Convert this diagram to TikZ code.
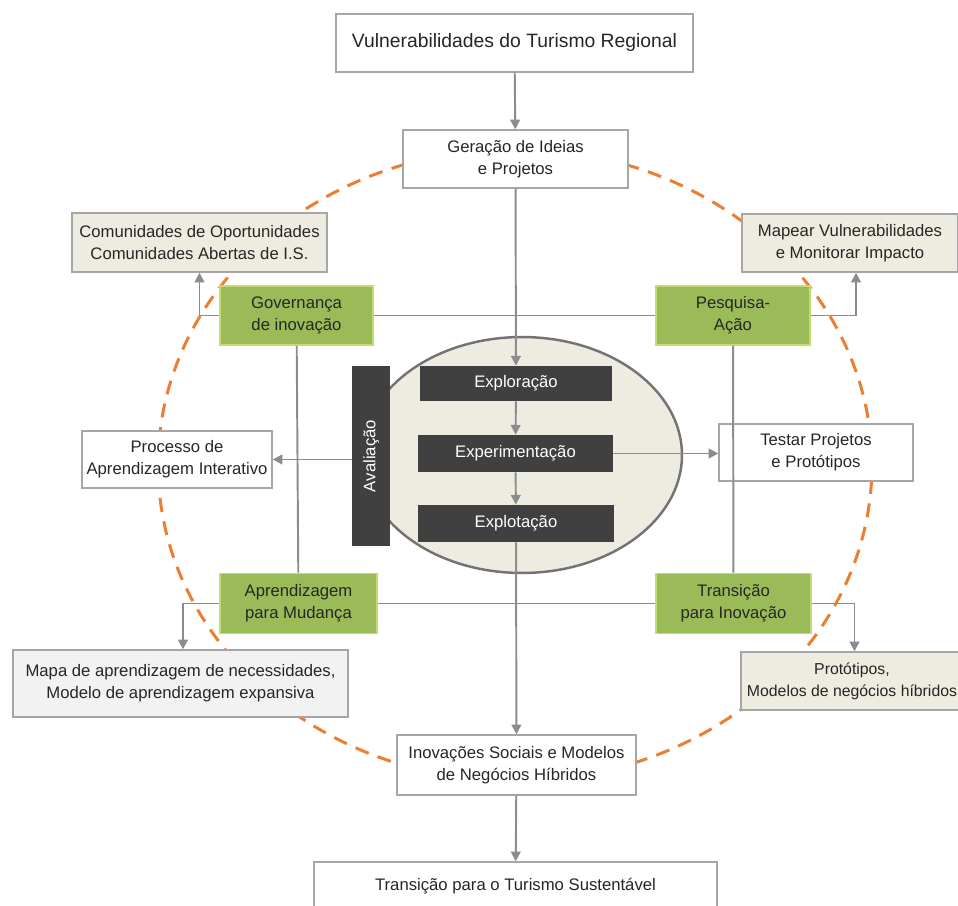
\documentclass[tikz,border=0pt]{standalone}
\usepackage{fontspec}
\setmainfont{Liberation Sans}
\usetikzlibrary{arrows.meta}

\definecolor{linegray}{HTML}{8C8C8C}
\definecolor{boxgray}{HTML}{A6A6A6}
\definecolor{txtgray}{HTML}{262626}
\definecolor{beige}{HTML}{EEECE1}
\definecolor{lightgray}{HTML}{F2F2F2}
\definecolor{leafgreen}{HTML}{9BBB59}
\definecolor{limegreen}{HTML}{C3DC6E}
\definecolor{darkbox}{HTML}{404040}
\definecolor{dashorange}{HTML}{ED7D31}

\begin{document}
\begin{tikzpicture}[x=0.02cm,y=-0.02cm,
    box/.style={draw=boxgray,fill=white,line width=0.8pt,align=center,inner sep=0pt,
      text=txtgray,font=\fontsize{9.5}{12.5}\selectfont},
    beigebox/.style={box,fill=beige},
    greenbox/.style={box,fill=leafgreen,draw=limegreen,line width=1pt},
    darkstep/.style={fill=darkbox,text=white,align=center,inner sep=0pt,
      font=\fontsize{9.5}{12.5}\selectfont},
    conn/.style={draw=linegray,line width=1.1pt},
    arr/.style={conn,-{Triangle[length=5.5pt,width=5.5pt]}}]
    \useasboundingbox (0,0) rectangle (958,906);

    % outer cycle and core
    \draw [dashorange,line width=1.7pt,dash pattern=on 8pt off 5.5pt] (515,465) ellipse [x radius=7.14cm,y radius=6.32cm];
    \draw [fill=beige,draw=gray!90!black,line width=1.4pt] (522,455) ellipse [x radius=3.2cm,y radius=2.36cm];

    \node[box,minimum width=7.14cm,minimum height=1.16cm,font=\fontsize{11}{13}\selectfont] (vuln) at (514.5,43) {Vulnerabilidades do Turismo Regional};
    \node[box,minimum width=4.5cm,minimum height=1.16cm] (ideias) at (515.5,159) {Geração de Ideias\\e Projetos};

    \node[beigebox,minimum width=5.1cm,minimum height=1.18cm] (comun) at (199.5,242.5) {Comunidades de Oportunidades\\Comunidades Abertas de I.S.};
    \node[beigebox,minimum width=4.32cm,minimum height=1.16cm] (mapear) at (850,243) {Mapear Vulnerabilidades\\e Monitorar Impacto};

    \node[greenbox,minimum width=3.06cm,minimum height=1.18cm] (gov) at (296.5,315.5) {Governança\\de inovação};
    \node[greenbox,minimum width=3.08cm,minimum height=1.18cm] (pesq) at (733,315.5) {Pesquisa-\\Ação};

    \node[box,minimum width=3.8cm,minimum height=1.14cm] (proc) at (177,459.5) {Processo de\\Aprendizagem Interativo};
    \node[box,minimum width=3.88cm,minimum height=1.14cm] (testar) at (816,452.5) {Testar Projetos\\e Protótipos};

    \node[darkstep,rotate=90,minimum width=3.6cm,minimum height=0.76cm] (aval) at (371,456) {Avaliação};
    \node[darkstep,minimum width=3.84cm,minimum height=0.7cm] (explor) at (516,383.5) {Exploração};
    \node[darkstep,minimum width=3.9cm,minimum height=0.74cm] (exper) at (515.5,453.5) {Experimentação};
    \node[darkstep,minimum width=3.92cm,minimum height=0.74cm] (explot) at (516,523.5) {Explotação};

    \node[greenbox,minimum width=3.14cm,minimum height=1.2cm] (aprend) at (298.5,603.5) {Aprendizagem\\para Mudança};
    \node[greenbox,minimum width=3.1cm,minimum height=1.2cm] (trans) at (733.5,603.5) {Transição\\para Inovação};

    \node[box,fill=lightgray,minimum width=6.7cm,minimum height=1.34cm] (mapa) at (180.5,683.5) {Mapa de aprendizagem de necessidades,\\Modelo de aprendizagem expansiva};
    \node[beigebox,minimum width=4.44cm,minimum height=1.16cm,font=\fontsize{9}{12.5}\selectfont] (proto) at (852,681) {Protótipos,\\Modelos de negócios híbridos};

    \node[box,minimum width=4.78cm,minimum height=1.2cm] (inov) at (516.5,765) {Inovações Sociais e Modelos\\de Negócios Híbridos};
    \node[box,minimum width=8.06cm,minimum height=0.96cm] (sust) at (515.5,886) {Transição para o Turismo Sustentável};

    % main flow
    \draw [arr] (vuln) -- (ideias);
    \draw [arr] (ideias) -- (explor);
    \draw [arr] (explor) -- (exper);
    \draw [arr] (exper) -- (explot);
    \draw [arr] (explot) -- (inov);
    \draw [arr] (inov) -- (sust);
    \draw [arr] (exper.east) -- (exper.east -| testar.west);
    \draw [arr] (aval.north |- proc.east) -- (proc.east);

    % frame of the four domains
    \draw [conn] (gov) -- (pesq);
    \draw [conn] (aprend) -- (trans);
    \draw [conn] (gov) -- (aprend);
    \draw [conn] (pesq) -- (trans);
    \draw [arr] (gov.west) -| (comun.south);
    \draw [arr] (pesq.east) -| ([xshift=0.12cm]mapear.south);
    \draw [arr] (aprend.west) -| ([xshift=0.05cm]mapa.north);
    \draw [arr] (trans.east) -| ([xshift=0.05cm]proto.north);
\end{tikzpicture}
\end{document}
